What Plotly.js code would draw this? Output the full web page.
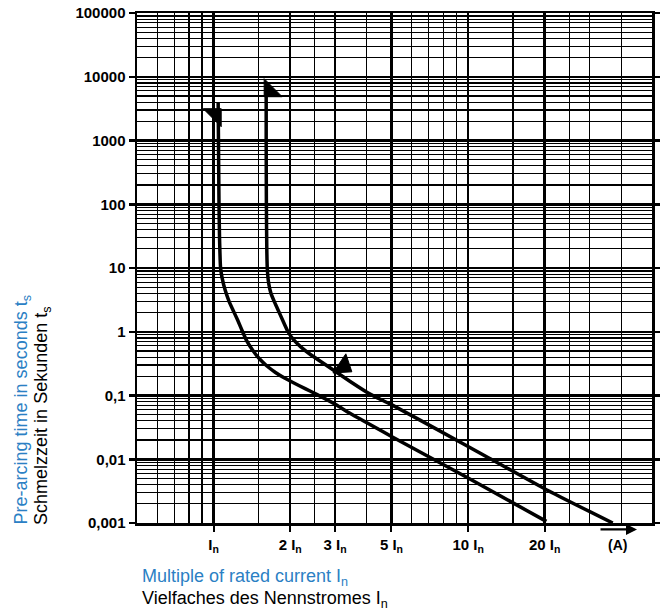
<!DOCTYPE html>
<html><head><meta charset="utf-8">
<script src="https://cdn.plot.ly/plotly-3.0.1.min.js"></script>
<style>html,body{margin:0;padding:0;background:#fff}#chart{width:660px;height:614px}</style>
</head><body><div id="chart"></div>
<script>
// Curve reaching In (lower curve)
const curve1X = [1.042, 1.045, 1.05, 1.055, 1.065, 1.08, 1.11, 1.15, 1.19, 1.245, 1.30, 1.35, 1.42, 1.52, 1.62, 1.75, 1.9, 2.05, 2.3, 2.53, 3.03, 3.42, 5.0, 10, 20.3];
const curve1Y = [3900, 1000, 100, 30, 10, 7, 4.5, 3, 2.22, 1.5, 1.0, 0.72, 0.52, 0.37, 0.29, 0.23, 0.188, 0.16, 0.127, 0.105, 0.0715, 0.053, 0.0228, 0.00508, 0.00106];
// Curve reaching 1.6 In (upper curve)
const curve2X = [1.609, 1.609, 1.612, 1.618, 1.625, 1.645, 1.68, 1.73, 1.79, 1.87, 1.96, 2.06, 2.2, 2.4, 2.8, 3.44, 4.12, 5.0, 10, 20.3, 37];
const curve2Y = [6700, 1000, 100, 20, 10, 5.8, 4.0, 3.0, 2.22, 1.5, 1.0, 0.75, 0.58, 0.44, 0.29, 0.166, 0.105, 0.0718, 0.0159, 0.00333, 0.001];
// Arrowheads drawn on the curves
const arrowX = [1.0146, 1.668, 3.24];
const arrowY = [2540, 6040, 0.288];
const arrowSymbol = ['triangle-ne', 'triangle-sw', 'triangle-right'];
const arrowAngle = [0, 0, 34];
const arrowSize = [20, 20, 20];

const xTickVals = [1, 2, 3, 5, 10, 20];
const xTickText = ['I<sub>n</sub>', '2 I<sub>n</sub>', '3 I<sub>n</sub>', '5 I<sub>n</sub>', '10 I<sub>n</sub>', '20 I<sub>n</sub>'];
const xMinorVals = [0.6, 0.7, 0.8, 0.9, 1.5, 2.5, 4, 6, 7, 8, 9, 15, 25, 30, 40];
const yTickVals = [0.001, 0.01, 0.1, 1, 10, 100, 1000, 10000, 100000];
const yTickText = ['0,001', '0,01', '0,1', '1', '10', '100', '1000', '10000', '100000'];
const yMinorSteps = [2, 3, 4, 5, 6, 7, 8, 9];
const yMinorVals = [];
yTickVals.slice(0, -1).forEach(d => yMinorSteps.forEach(s => yMinorVals.push(+(d * s).toPrecision(3))));

const blue = '#2b80c4';
const font = 'Liberation Sans, Arial, Helvetica, sans-serif';

const traces = [
  {x: curve1X, y: curve1Y, type: 'scatter', mode: 'lines', line: {color: '#000', width: 3.5, shape: 'spline', smoothing: 0.5}, hoverinfo: 'skip'},
  {x: curve2X, y: curve2Y, type: 'scatter', mode: 'lines', line: {color: '#000', width: 3.5, shape: 'spline', smoothing: 0.5}, hoverinfo: 'skip'},
  {x: arrowX, y: arrowY, type: 'scatter', mode: 'markers', opacity: 1,
   marker: {symbol: arrowSymbol, angle: arrowAngle, size: arrowSize, color: '#000', opacity: 1, line: {width: 1, color: '#000'}}, hoverinfo: 'skip'}
];

const layout = {
  width: 660, height: 614,
  margin: {l: 137, r: 8, t: 13, b: 91},
  paper_bgcolor: '#fff', plot_bgcolor: '#fff',
  showlegend: false,
  font: {family: font, color: '#000'},
  xaxis: {
    type: 'log', range: [Math.log10(0.5), Math.log10(52.8)],
    tickmode: 'array', tickvals: xTickVals, ticktext: xTickText,
    tickfont: {size: 15, family: font, weight: 'bold'},
    ticks: 'outside', ticklen: 6, tickwidth: 2, tickcolor: '#000',
    showgrid: true, gridcolor: '#000', gridwidth: 2.5,
    showline: true, linecolor: '#000', linewidth: 2.5, mirror: true,
    zeroline: false,
    minor: {tickmode: 'array', tickvals: xMinorVals, showgrid: true, gridcolor: '#000', gridwidth: 1.2, ticks: ''}
  },
  yaxis: {
    type: 'log', range: [-3, 5],
    tickmode: 'array', tickvals: yTickVals, ticktext: yTickText,
    tickfont: {size: 15, family: font, weight: 'bold'},
    ticks: 'outside', ticklen: 6, tickwidth: 2.5, tickcolor: '#000',
    showgrid: true, gridcolor: '#000', gridwidth: 2.5,
    showline: true, linecolor: '#000', linewidth: 2.5, mirror: 'ticks',
    zeroline: false,
    minor: {tickmode: 'array', tickvals: yMinorVals, showgrid: true, gridcolor: '#000', gridwidth: 1.2, ticks: ''}
  },
  annotations: [
    {xref: 'paper', yref: 'paper', x: -0.2226, y: -0.007, xanchor: 'center', yanchor: 'bottom',
     textangle: -90, showarrow: false, text: 'Pre-arcing time in seconds t<sub>s</sub>',
     font: {size: 18, color: blue, family: font}},
    {xref: 'paper', yref: 'paper', x: -0.1838, y: -0.007, xanchor: 'center', yanchor: 'bottom',
     textangle: -90, showarrow: false, text: 'Schmelzzeit in Sekunden t<sub>s</sub>',
     font: {size: 18, color: '#000', family: font}},
    {xref: 'paper', yref: 'paper', x: 0.0064, y: -0.1063, xanchor: 'left', yanchor: 'middle',
     showarrow: false, text: 'Multiple of rated current I<sub>n</sub>',
     font: {size: 18, color: blue, family: font}},
    {xref: 'paper', yref: 'paper', x: 0.0064, y: -0.1500, xanchor: 'left', yanchor: 'middle',
     showarrow: false, text: 'Vielfaches des Nennstromes I<sub>n</sub>',
     font: {size: 18, color: '#000', family: font}},
    {xref: 'x', yref: 'paper', x: Math.log10(46.1), y: -0.0125, ax: -38, ay: 0,
     showarrow: true, arrowhead: 2, arrowsize: 1, arrowwidth: 2.2, arrowcolor: '#000', text: ''},
    {xref: 'x', yref: 'paper', x: Math.log10(38.5), y: -0.0245, xanchor: 'center', yanchor: 'top',
     showarrow: false, text: '<b>(A)</b>', font: {size: 14, family: font, color: '#000'}}
  ]
};

Plotly.newPlot('chart', traces, layout, {displayModeBar: false, staticPlot: true});
</script>
</body></html>
